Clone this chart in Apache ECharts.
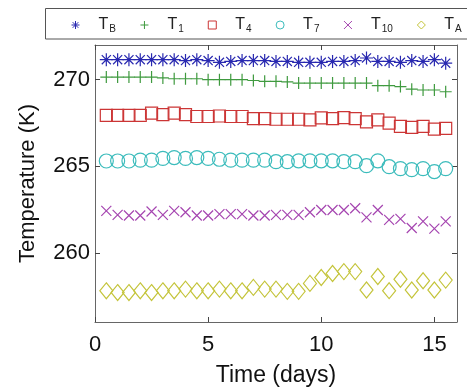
<!DOCTYPE html>
<html>
<head>
<meta charset="utf-8">
<script src="https://cdn.jsdelivr.net/npm/echarts@6/dist/echarts.min.js"></script>
<style>
  html, body { margin: 0; padding: 0; background: #fff; }
  #EChart { width: 467px; height: 392px; }
</style>
</head>
<body>
<div id="EChart"></div>
<script>
// time axis (days)
var days = [0.5, 1, 1.5, 2, 2.5, 3, 3.5, 4, 4.5, 5, 5.5, 6, 6.5, 7, 7.5, 8,
            8.5, 9, 9.5, 10, 10.5, 11, 11.5, 12, 12.5, 13, 13.5, 14, 14.5, 15, 15.5];

var seriesNames = ['TB', 'T1', 'T4', 'T7', 'T10', 'TA'];
var xTicks = [0, 5, 10, 15];
var yTicks = [260, 265, 270];

var tB = [271.15, 271.15, 271.15, 271.15, 271.15, 271.15, 271.15, 271.1, 271.15, 271.1, 271.0, 271.05, 271.1, 271.1, 271.1,
          271.05, 271.05, 271.0, 271.0, 271.0, 271.05, 271.05, 271.1, 271.25, 271.05, 271.05, 271.0, 271.1, 271.05, 271.15, 270.95];
var t1 = [270.15, 270.15, 270.15, 270.15, 270.15, 270.1, 270.05, 270.05, 270.05, 270.0, 270.0, 270.0, 270.0, 269.95, 269.9,
          269.9, 269.87, 269.8, 269.8, 269.8, 269.8, 269.8, 269.8, 269.8, 269.65, 269.65, 269.6, 269.45, 269.4, 269.4, 269.3];
var t4 = [267.94, 267.94, 267.94, 267.94, 268.06, 267.98, 268.06, 267.98, 267.87, 267.87, 267.9, 267.87, 267.87, 267.75, 267.75,
          267.71, 267.71, 267.71, 267.68, 267.79, 267.75, 267.81, 267.75, 267.56, 267.68, 267.49, 267.3, 267.24, 267.3, 267.14, 267.18];
var t7 = [265.3, 265.3, 265.3, 265.35, 265.35, 265.45, 265.5, 265.45, 265.5, 265.45, 265.4, 265.35, 265.35, 265.35, 265.35,
          265.26, 265.26, 265.31, 265.31, 265.31, 265.31, 265.26, 265.26, 265.03, 265.31, 264.97, 264.86, 264.8, 264.86, 264.69, 264.86];
var t10 = [262.42, 262.19, 262.15, 262.15, 262.38, 262.19, 262.42, 262.34, 262.15, 262.15, 262.23, 262.23, 262.23, 262.15, 262.15,
           262.19, 262.19, 262.19, 262.34, 262.47, 262.47, 262.47, 262.57, 262.04, 262.47, 261.9, 261.96, 261.43, 261.81, 261.39, 261.81];
var tA = [257.8, 257.7, 257.7, 257.8, 257.7, 257.8, 257.8, 257.9, 257.8, 257.8, 257.9, 257.8, 257.8, 258.0, 257.9,
          257.9, 257.77, 257.77, 258.23, 258.57, 258.8, 258.91, 258.91, 257.85, 258.63, 257.81, 258.47, 257.85, 258.38, 257.85, 258.42];

var values = [tB, t1, t4, t7, t10, tA];
var colors = ['#2828b0', '#3f9a3f', '#cc3535', '#3cbcbc', '#a545b0', '#c4c43a'];
var symbols = [
    'path://M5,0L5,10M0,5L10,5M1.5,1.5L8.5,8.5M1.5,8.5L8.5,1.5', // asterisk
    'path://M5,0L5,10M0,5L10,5',                                 // plus
    'rect',
    'circle',
    'path://M0,0L10,10M0,10L10,0',                               // cross
    'diamond'
];
var sizes = [13, 12, 12, 14, 10, [13, 16]];

var EChart = echarts.init(document.getElementById('EChart'));

var axisColor = '#666';
var labelFont = 'Liberation Sans, Arial, sans-serif';

function pairs(vals) {
    var out = [];
    for (var i = 0; i < days.length; i++) out.push([days[i], vals[i]]);
    return out;
}

var series = seriesNames.map(function (name, i) {
    return {
        name: name,
        type: 'scatter',
        data: pairs(values[i]),
        symbol: symbols[i],
        symbolSize: sizes[i],
        itemStyle: { color: 'none', borderColor: colors[i], borderWidth: 1.2, opacity: 1 },
        emphasis: { disabled: true },
        silent: true
    };
});

var config = {
    animation: false,
    backgroundColor: '#fff',
    color: colors,
    grid: { left: 95, right: 10, top: 45, bottom: 67 },
    legend: {
        // legend icons: same shapes as the markers, drawn smaller
        data: seriesNames.map(function (name, i) {
            return {
                name: name,
                icon: symbols[i],
                itemStyle: { color: 'none', borderColor: colors[i], borderWidth: 1 }
            };
        }),
        left: 69,
        top: 17,
        width: 700,
        itemWidth: 8,
        itemHeight: 8,
        itemGap: 22,
        padding: 0,
        selectedMode: false,
        formatter: function (name) {
            return '{t|T}{s|' + name.slice(1) + '}';
        },
        textStyle: {
            color: '#222',
            fontFamily: labelFont,
            rich: {
                t: { fontSize: 16, fontFamily: labelFont, color: '#222', padding: [0, 0, 0, 14] },
                s: { fontSize: 10, fontFamily: labelFont, color: '#222', padding: [9, 0, 0, 1] }
            }
        }
    },
    graphic: [{
        type: 'rect',
        shape: { x: 45.5, y: 8.5, width: 430, height: 30.5 },
        style: { fill: 'none', stroke: '#555', lineWidth: 1 },
        silent: true
    }],
    xAxis: [{
        type: 'value',
        min: 0,
        max: 16,
        name: 'Time (days)',
        nameLocation: 'middle',
        nameGap: 42,
        nameTextStyle: { fontSize: 23, fontFamily: labelFont, color: '#111' },
        axisLine: { show: true, onZero: false, lineStyle: { color: axisColor, width: 1 } },
        axisTick: { show: true, inside: true, length: 5, customValues: xTicks, lineStyle: { color: '#444' } },
        axisLabel: { show: true, customValues: xTicks, fontSize: 22, fontFamily: labelFont, color: '#111', margin: 12 },
        splitLine: { show: false }
    }, {
        type: 'value',
        position: 'top',
        min: 0,
        max: 16,
        axisLine: { show: true, onZero: false, lineStyle: { color: axisColor, width: 1 } },
        axisTick: { show: true, inside: true, length: 5, customValues: xTicks, lineStyle: { color: '#444' } },
        axisLabel: { show: false },
        splitLine: { show: false }
    }],
    yAxis: [{
        type: 'value',
        min: 256,
        max: 272,
        name: 'Temperature (K)',
        nameLocation: 'middle',
        nameGap: 56,
        nameTextStyle: { fontSize: 22, fontFamily: labelFont, color: '#111' },
        axisLine: { show: true, onZero: false, lineStyle: { color: axisColor, width: 1 } },
        axisTick: { show: true, inside: true, length: 5, customValues: yTicks, lineStyle: { color: '#444' } },
        axisLabel: { show: true, customValues: yTicks, fontSize: 22, fontFamily: labelFont, color: '#111', margin: 5 },
        splitLine: { show: false }
    }, {
        type: 'value',
        position: 'right',
        min: 256,
        max: 272,
        axisLine: { show: true, onZero: false, lineStyle: { color: axisColor, width: 1 } },
        axisTick: { show: true, inside: true, length: 5, customValues: yTicks, lineStyle: { color: '#444' } },
        axisLabel: { show: false },
        splitLine: { show: false }
    }],
    series: series
};

EChart.setOption(config);
</script>
</body>
</html>
